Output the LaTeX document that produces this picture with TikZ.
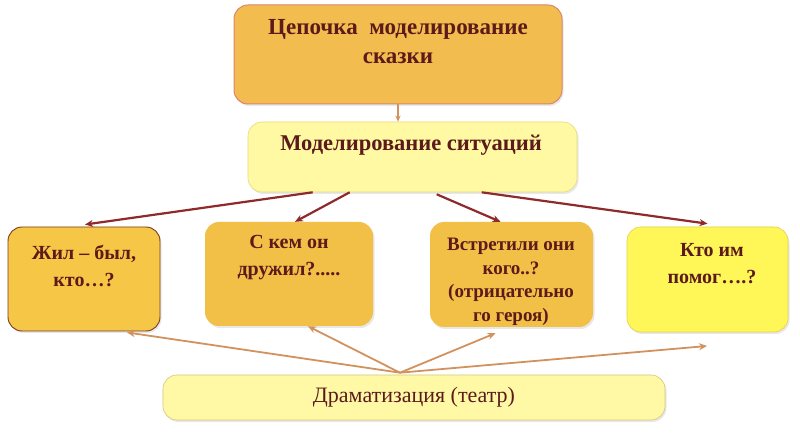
\documentclass[tikz,border=0pt]{standalone}
\usepackage{fontspec}
\setmainfont{Liberation Serif}
\usetikzlibrary{calc,shadows,arrows.meta}
\definecolor{txt}{HTML}{5C1A1A}
\definecolor{topf}{HTML}{F2BD4E}
\definecolor{topd}{HTML}{D9876A}
\definecolor{midf}{HTML}{FFF9A3}
\definecolor{midd}{HTML}{E6DB7A}
\definecolor{bAf}{HTML}{F6C646}
\definecolor{bAd}{HTML}{7B3B1E}
\definecolor{bBf}{HTML}{F2BF47}
\definecolor{bCf}{HTML}{F3C047}
\definecolor{bDf}{HTML}{FFF658}
\definecolor{bDd}{HTML}{E5CF4A}
\definecolor{botf}{HTML}{FFF9A6}
\definecolor{botd}{HTML}{D4C675}
\definecolor{arrred}{HTML}{8E2A2A}
\definecolor{arror}{HTML}{D2925E}
\begin{document}
\begin{tikzpicture}[x=1pt,y=-1pt,
  box/.style={rectangle, rounded corners=14pt, inner sep=0pt,
    drop shadow={shadow xshift=1.5pt, shadow yshift=-2pt, opacity=0.18}},
  lbl/.style={text=txt, font=\bfseries\fontsize{20}{27}\selectfont, align=center, inner sep=0pt},
  redarr/.style={draw=arrred, line width=2.2pt, -{Stealth[length=8pt,width=7pt]}},
  orarr/.style={draw=arror, line width=1.8pt, -{Stealth[length=8pt,width=7pt]}}]
\useasboundingbox (0,0) rectangle (800,435);
\fill[white] (0,0) rectangle (800,435);

% boxes
\node[box, fill=topf, draw=topd, line width=1pt, minimum width=328pt, minimum height=99pt] (top) at (398,54.5) {};
\node[box, fill=midf, draw=midd, line width=0.6pt, minimum width=329pt, minimum height=70pt] (mid) at (412.5,157) {};
\node[box, fill=bAf, draw=bAd, line width=0.9pt, minimum width=152pt, minimum height=104pt] (b1) at (84,279) {};
\node[box, fill=bBf, minimum width=168pt, minimum height=104pt] (b2) at (289,274) {};
\node[box, fill=bCf, minimum width=163pt, minimum height=105pt] (b3) at (511.5,274.5) {};
\node[box, fill=bDf, draw=bDd, line width=0.6pt, minimum width=161pt, minimum height=105pt] (b4) at (707.5,279.5) {};
\node[box, fill=botf, draw=botd, line width=0.6pt, minimum width=502pt, minimum height=45pt] (bot) at (414,397.5) {};

% texts
\node[lbl, font=\bfseries\fontsize{23}{29}\selectfont] (ttop) at (398,42) {Цепочка\ \ моделирование\\сказки};
\node[lbl, font=\bfseries\fontsize{22.5}{29}\selectfont] (tmid) at (411,145) {Моделирование ситуаций};
\node[lbl] (t1) at (84,266) {Жил – был,\\кто…?};
\node[lbl] (t2) at (289,258) {С кем он\\дружил?.....};
\node[lbl, font=\bfseries\fontsize{19}{23.5}\selectfont] (t3) at (511,282) {Встретили они\\кого..?\\(отрицательно\\го героя)};
\node[lbl] (t4) at (712,264) {Кто им\\помог….?};
\node[lbl, font=\fontsize{22}{26}\selectfont] (tbot) at (414,397) {Драматизация (театр)};

% connectors
\draw[orarr, line width=1.3pt, -{Stealth[length=6pt,width=5pt]}] (top.south) -- (top.south |- mid.north);
\draw[redarr] ($(mid.south west)+(65,0)$) -- ($(b1.north)+(1,-2)$);
\draw[redarr] ($(mid.south west)+(102,0)$) -- ($(b2.north)+(6,0)$);
\draw[redarr] ($(mid.south west)+(189,2)$) -- ($(b3.north)+(-11,0)$);
\draw[redarr] ($(mid.south west)+(234,0)$) -- ($(b4.north)+(0,-3)$);

\coordinate (src) at ($(bot.north)+(-14,-2)$);
\coordinate (free) at (707,346);
\draw[orarr] (src) -- ($(b1.south)+(43,1)$);
\draw[orarr] (src) -- ($(b2.south)+(19,0)$);
\draw[orarr] (src) -- ($(b3.south)+(-16,6)$);
\draw[orarr] (src) -- (free);
\end{tikzpicture}
\end{document}
